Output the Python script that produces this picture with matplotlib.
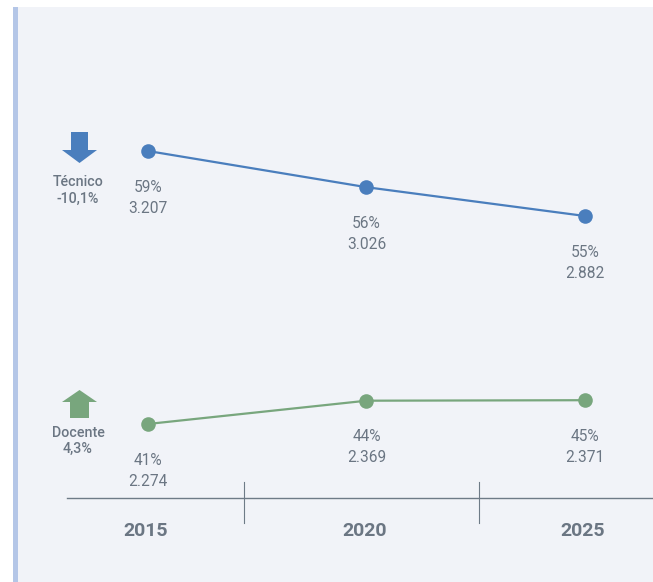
import matplotlib
matplotlib.use("Agg")
import matplotlib.pyplot as plt
from matplotlib.patches import Rectangle, Polygon
from matplotlib.lines import Line2D
import matplotlib.transforms as mtransforms

# ---- data ----
years = ["2015", "2020", "2025"]
tecnico_values = [3207, 3026, 2882]
tecnico_pct = ["59%", "56%", "55%"]
docente_values = [2274, 2369, 2371]
docente_pct = ["41%", "44%", "45%"]
series_names = ["Técnico", "Docente"]
series_changes = ["-10,1%", "4,3%"]

# ---- style ----
W, H = 653, 582
BG = "#f1f3f8"
BAR = "#b4c6e7"
BLUE = "#4a7ebd"
GREEN = "#78a67d"
TXT = "#6b7683"
AXC = "#6e7b87"
FONT = ["Roboto", "DejaVu Sans"]
plt.rcParams["font.family"] = FONT

fig = plt.figure(figsize=(W / 100, H / 100), dpi=100)
fig.patch.set_facecolor("white")
# pixel transform (origin top-left)
px = mtransforms.Affine2D().scale(1 / W, -1 / H).translate(0, 1) + fig.transFigure

fig.patches.append(Rectangle((13, 7), W - 13, H - 7, transform=px, facecolor=BG,
                             edgecolor="none", zorder=0))
fig.patches.append(Rectangle((13, 7), 5, H - 7, transform=px, facecolor=BAR,
                             edgecolor="none", zorder=1))

x = list(range(len(years)))
ax1 = fig.add_axes([0, 0, 1, 1])
ax1.set_facecolor("none")
ax1.set_xlim(-0.677, 2.311)
ax1.set_ylim(1052, 3962)
ax1.axis("off")

ax2 = ax1.twinx()
ax2.set_ylim(1629, 4004.5)
ax2.axis("off")
ax1.set_zorder(5)
ax2.set_zorder(6)


def fmt(v):
    return f"{v:,}".replace(",", ".")


for ax, vals, pcts, col in [(ax1, tecnico_values, tecnico_pct, BLUE),
                            (ax2, docente_values, docente_pct, GREEN)]:
    ax.plot(x, vals, color=col, lw=1.6, marker="o", markersize=10.5,
            markeredgewidth=0, zorder=3)
    for xi, v, p in zip(x, vals, pcts):
        ax.annotate(f"{p}\n{fmt(v)}", (xi, v), xytext=(0, -33.5),
                    textcoords="offset points", ha="center", va="center",
                    fontsize=11.2, color=TXT, linespacing=1.5)

# x axis baseline, separators, tick labels
blend_px = mtransforms.blended_transform_factory(ax1.transData, px)
ax1.add_line(Line2D([-0.37, 2.311], [498, 498], transform=blend_px, color=AXC, lw=1.0))
for sx in [0.44, 1.515]:
    ax1.add_line(Line2D([sx, sx], [482, 523], transform=blend_px, color=AXC, lw=0.8))
for xi, yr in zip(x, years):
    ax1.text(xi - 0.01, 531.5, yr, transform=blend_px, ha="center", va="center",
             fontsize=14, fontweight="bold", color=TXT)

# left legend labels with arrows
# Técnico (down arrow)
fig.patches.append(Polygon([(71, 132), (88, 132), (88, 150), (97, 150), (79.5, 163),
                            (62, 150), (71, 150)], closed=True, transform=px,
                           facecolor=BLUE, edgecolor="none", zorder=2))
fig.text(78 / W, 1 - 190.5 / H, f"{series_names[0]}\n{series_changes[0]}", ha="center",
         va="center", fontsize=10.3, fontweight="medium", color=TXT, linespacing=1.25)
# Docente (up arrow)
fig.patches.append(Polygon([(79.5, 390), (97, 402), (89, 402), (89, 418), (70, 418),
                            (70, 402), (62, 402)], closed=True, transform=px,
                           facecolor=GREEN, edgecolor="none", zorder=2))
fig.text(78 / W, 1 - 441 / H, f"{series_names[1]}\n{series_changes[1]}", ha="center",
         va="center", fontsize=10.3, fontweight="medium", color=TXT, linespacing=1.25)

fig.savefig("out.png", dpi=100, facecolor=fig.get_facecolor())
